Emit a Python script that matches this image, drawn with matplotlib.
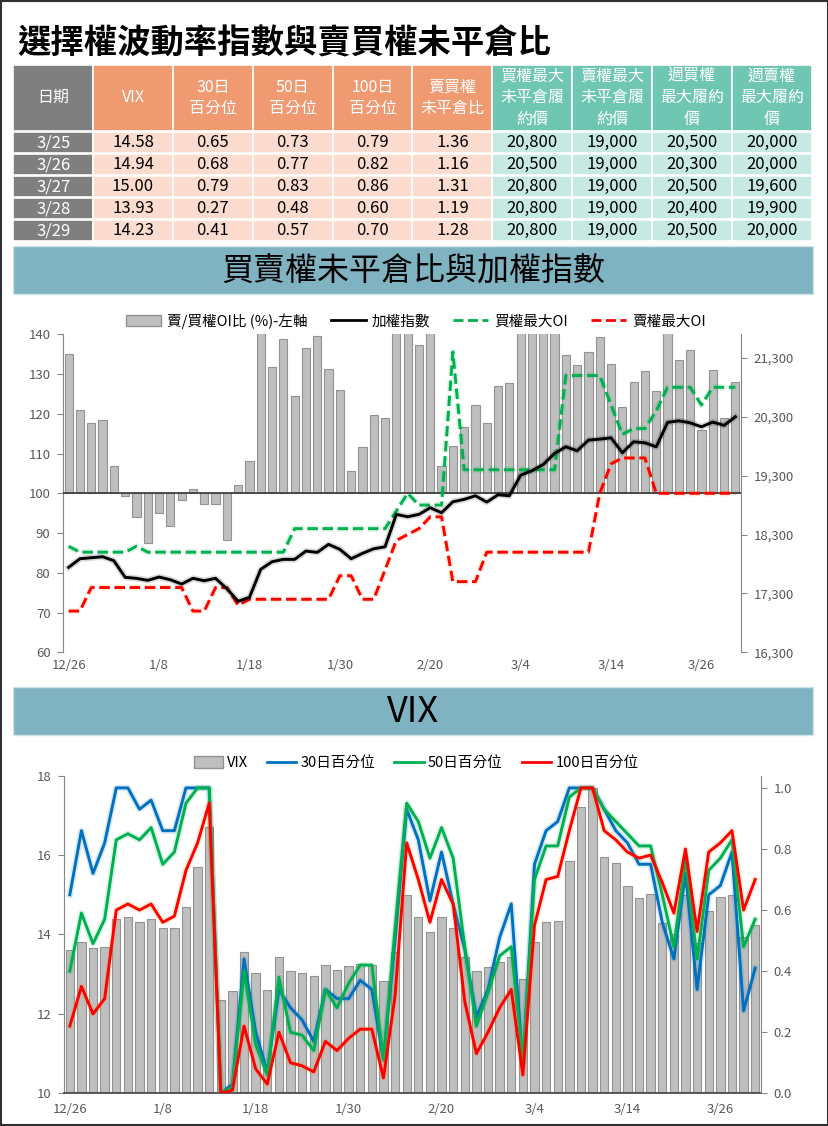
import matplotlib
matplotlib.use("Agg")
import matplotlib.pyplot as plt
import matplotlib.patheffects as pe
from matplotlib.patches import Rectangle, Patch
from matplotlib.lines import Line2D
from matplotlib.ticker import FuncFormatter
import numpy as np

plt.rcParams["font.family"] = ["Noto Sans CJK TC", "DejaVu Sans"]

W, H = 829, 1126

# ---- data ----
dates = ["12/26", "12/27", "12/28", "12/29", "1/2", "1/3", "1/4", "1/5", "1/8", "1/9",
         "1/10", "1/11", "1/12", "1/15", "1/16", "1/17", "1/18", "1/19", "1/22", "1/23",
         "1/24", "1/25", "1/26", "1/29", "1/30", "1/31", "2/1", "2/2", "2/5", "2/15",
         "2/16", "2/19", "2/20", "2/21", "2/22", "2/23", "2/26", "2/27", "2/29", "3/1",
         "3/4", "3/5", "3/6", "3/7", "3/8", "3/11", "3/12", "3/13", "3/14", "3/15",
         "3/18", "3/19", "3/20", "3/21", "3/22", "3/25", "3/26", "3/27", "3/28", "3/29"]

# put/call OI ratio (%), values above 140 are cut off by the axis
pc_ratio = [135.0, 121.0, 117.8, 118.5, 106.9, 99.4, 94.1, 87.4, 95.0, 91.8,
            98.4, 101.2, 97.4, 97.4, 88.3, 102.0, 108.2, 145.0, 131.8, 138.8,
            124.6, 136.6, 139.6, 131.3, 126.1, 105.7, 111.7, 119.7, 119.0, 148.0,
            146.0, 137.4, 143.0, 106.8, 112.0, 116.8, 122.3, 117.8, 127.1, 127.8,
            145.0, 150.0, 147.0, 144.0, 134.7, 132.4, 135.5, 139.4, 132.5, 121.8,
            127.9, 130.7, 125.7, 142.0, 133.5, 136.0, 116.0, 131.0, 119.0, 128.0]

taiex = [17743, 17889, 17906, 17923, 17855, 17573, 17556, 17522, 17578, 17532,
         17459, 17556, 17515, 17556, 17380, 17166, 17234, 17709, 17838, 17878,
         17878, 18019, 17997, 18133, 18048, 17889, 17980, 18058, 18092, 18642,
         18602, 18642, 18755, 18670, 18856, 18897, 18958, 18851, 18975, 18958,
         19309, 19382, 19490, 19677, 19790, 19722, 19903, 19920, 19942, 19688,
         19875, 19857, 19790, 20204, 20231, 20197, 20129, 20209, 20153, 20299]

call_max_oi = [18100, 18000, 18000, 18000, 18000, 18000, 18100, 18000, 18000, 18000,
               18000, 18000, 18000, 18000, 18000, 18000, 18000, 18000, 18000, 18000,
               18400, 18400, 18400, 18400, 18400, 18400, 18400, 18400, 18400, 18700,
               19000, 18800, 18800, 18800, 21400, 19400, 19400, 19400, 19400, 19400,
               19400, 19400, 19400, 19400, 21000, 21000, 21000, 21000, 20500, 20000,
               20100, 20100, 20400, 20800, 20800, 20800, 20500, 20800, 20800, 20800]

put_max_oi = [17000, 17000, 17400, 17400, 17400, 17400, 17400, 17400, 17400, 17400,
              17400, 17000, 17000, 17400, 17400, 17100, 17200, 17200, 17200, 17200,
              17200, 17200, 17200, 17200, 17600, 17600, 17200, 17200, 17700, 18200,
              18300, 18400, 18600, 18600, 17500, 17500, 17500, 18000, 18000, 18000,
              18000, 18000, 18000, 18000, 18000, 18000, 18000, 19000, 19500, 19600,
              19600, 19600, 19000, 19000, 19000, 19000, 19000, 19000, 19000, 19000]

vix = [13.60, 13.80, 13.65, 13.68, 14.38, 14.43, 14.31, 14.38, 14.16, 14.16,
       14.69, 15.69, 16.70, 12.35, 12.58, 13.57, 13.02, 12.60, 13.43, 13.07,
       13.03, 12.95, 13.22, 13.10, 13.20, 13.26, 13.22, 12.82, 13.57, 15.00,
       14.43, 14.06, 14.43, 14.16, 13.43, 13.07, 13.17, 13.30, 13.43, 12.87,
       13.80, 14.32, 14.35, 15.86, 17.22, 17.70, 15.96, 15.81, 15.21, 14.91,
       15.01, 14.28, 14.02, 15.00, 13.79, 14.58, 14.94, 15.00, 13.93, 14.23]

pct30 = [0.65, 0.86, 0.72, 0.82, 1.00, 1.00, 0.93, 0.96, 0.86, 0.86,
         1.00, 1.00, 1.00, 0.00, 0.03, 0.44, 0.20, 0.07, 0.34, 0.28,
         0.24, 0.17, 0.34, 0.31, 0.31, 0.37, 0.34, 0.11, 0.50, 0.93,
         0.83, 0.63, 0.79, 0.62, 0.47, 0.25, 0.34, 0.51, 0.62, 0.09,
         0.75, 0.86, 0.89, 1.00, 1.00, 1.00, 0.93, 0.86, 0.82, 0.75,
         0.75, 0.56, 0.44, 0.72, 0.34, 0.65, 0.68, 0.79, 0.27, 0.41]

pct50 = [0.40, 0.59, 0.49, 0.57, 0.83, 0.85, 0.83, 0.87, 0.75, 0.79,
         0.95, 1.00, 1.00, 0.00, 0.02, 0.40, 0.16, 0.06, 0.38, 0.20,
         0.19, 0.14, 0.34, 0.28, 0.36, 0.42, 0.42, 0.11, 0.54, 0.95,
         0.89, 0.77, 0.87, 0.77, 0.48, 0.22, 0.33, 0.45, 0.48, 0.10,
         0.70, 0.81, 0.81, 0.97, 1.00, 1.00, 0.93, 0.89, 0.85, 0.81,
         0.81, 0.65, 0.48, 0.77, 0.44, 0.73, 0.77, 0.83, 0.48, 0.57]

pct100 = [0.22, 0.35, 0.26, 0.31, 0.60, 0.62, 0.60, 0.62, 0.56, 0.58,
          0.73, 0.82, 0.95, 0.00, 0.01, 0.22, 0.08, 0.03, 0.20, 0.10,
          0.09, 0.07, 0.17, 0.14, 0.18, 0.21, 0.21, 0.05, 0.32, 0.82,
          0.70, 0.56, 0.70, 0.62, 0.30, 0.13, 0.20, 0.28, 0.34, 0.06,
          0.55, 0.70, 0.71, 0.86, 1.00, 1.00, 0.86, 0.83, 0.79, 0.77,
          0.78, 0.69, 0.59, 0.80, 0.53, 0.79, 0.82, 0.86, 0.60, 0.70]

# ---- table data ----
tbl_header = ["日期", "VIX", "30日\n百分位", "50日\n百分位", "100日\n百分位", "賣買權\n未平倉比",
              "買權最大\n未平倉履\n約價", "賣權最大\n未平倉履\n約價", "週買權\n最大履約\n價",
              "週賣權\n最大履約\n價"]
tbl_dates = ["3/25", "3/26", "3/27", "3/28", "3/29"]
tbl_vix = [14.58, 14.94, 15.00, 13.93, 14.23]
tbl_p30 = [0.65, 0.68, 0.79, 0.27, 0.41]
tbl_p50 = [0.73, 0.77, 0.83, 0.48, 0.57]
tbl_p100 = [0.79, 0.82, 0.86, 0.60, 0.70]
tbl_pc = [1.36, 1.16, 1.31, 1.19, 1.28]
tbl_call_max = [20800, 20500, 20800, 20800, 20800]
tbl_put_max = [19000, 19000, 19000, 19000, 19000]
tbl_wk_call = [20500, 20300, 20500, 20400, 20500]
tbl_wk_put = [20000, 20000, 19600, 19900, 20000]

GRAY_HEAD = "#7F7F7F"
ORANGE_HEAD = "#F09A72"
ORANGE_CELL = "#FBDCCF"
TEAL_HEAD = "#6FC6B3"
TEAL_CELL = "#C6EAE3"
BANNER = "#7FB3C1"
TICK_C = "#595959"

fig = plt.figure(figsize=(W / 100, H / 100), dpi=100)

# background layer in pixel coordinates
bg = fig.add_axes([0, 0, 1, 1], zorder=0)
bg.set_xlim(0, W)
bg.set_ylim(H, 0)
bg.axis("off")

bg.add_patch(Rectangle((1, 1), W - 2, H - 2, fill=False, edgecolor="#303030", lw=1.5))
bg.text(17, 44, "選擇權波動率指數與賣買權未平倉比", fontsize=24, fontweight="bold",
        va="center", ha="left", color="black")

# table
col_x = [13.2 + 79.86 * k for k in range(11)]
head_top, head_bot = 65, 130.7
row_tops = [131.7, 153.7, 175.7, 197.7, 219.7]
row_h = 21.0
head_colors = [GRAY_HEAD] + [ORANGE_HEAD] * 5 + [TEAL_HEAD] * 4
cell_colors = [GRAY_HEAD] + [ORANGE_CELL] * 5 + [TEAL_CELL] * 4

rows = []
for i in range(5):
    rows.append([tbl_dates[i], f"{tbl_vix[i]:.2f}", f"{tbl_p30[i]:.2f}", f"{tbl_p50[i]:.2f}",
                 f"{tbl_p100[i]:.2f}", f"{tbl_pc[i]:.2f}", f"{tbl_call_max[i]:,}",
                 f"{tbl_put_max[i]:,}", f"{tbl_wk_call[i]:,}", f"{tbl_wk_put[i]:,}"])

for c in range(10):
    x0, x1 = col_x[c], col_x[c + 1]
    bg.add_patch(Rectangle((x0, head_top), x1 - x0, head_bot - head_top,
                           facecolor=head_colors[c], edgecolor="white", lw=1.2))
    bg.text((x0 + x1) / 2, (head_top + head_bot) / 2, tbl_header[c], color="white",
            fontsize=11.5, ha="center", va="center", linespacing=1.35)
    for r in range(5):
        bg.add_patch(Rectangle((x0, row_tops[r]), x1 - x0, row_h,
                               facecolor=cell_colors[c], edgecolor="white", lw=1.2))
        bg.text((x0 + x1) / 2, row_tops[r] + row_h / 2 + 0.5, rows[r][c],
                color="white" if c == 0 else "black", fontsize=12,
                ha="center", va="center")

# banners
bg.add_patch(Rectangle((13, 245.7), 800, 48.6, facecolor=BANNER, edgecolor="#D0E4EA", lw=1))
bg.text(413, 271, "買賣權未平倉比與加權指數", fontsize=23, ha="center", va="center",
        color="black", fontweight="medium")
bg.add_patch(Rectangle((13, 687), 800, 48, facecolor=BANNER, edgecolor="#D0E4EA", lw=1))
bg.text(413, 712, "VIX", fontsize=26, ha="center", va="center", color="black",
        fontweight="medium")

x = np.arange(len(dates))
tick_pos = list(range(0, len(dates), 8))
tick_lab = [dates[i] for i in tick_pos]


def glow(color):
    return [pe.Stroke(linewidth=4.5, foreground=color, alpha=0.15), pe.Normal()]


# ---- chart 1: put/call ratio and TAIEX ----
ax1 = fig.add_axes([63 / W, 1 - 652.3 / H, 678 / W, 318 / H], zorder=2)
ax1.bar(x, np.array(pc_ratio) - 100, bottom=100, width=0.72, color="#BFBFBF",
        edgecolor="#929292", lw=0.8, zorder=2)
ax1.axhline(100, color="#404040", lw=1.3, zorder=3)
ax1.set_xlim(-0.5, len(dates) - 0.5)
ax1.set_ylim(60, 140)
ax1.set_yticks(range(60, 141, 10))
ax1.set_xticks(tick_pos)
ax1.set_xticklabels(tick_lab)
for s in ["top", "right", "bottom"]:
    ax1.spines[s].set_visible(False)
ax1.spines["left"].set_color("#868686")
ax1.tick_params(axis="y", colors="#868686", labelcolor=TICK_C, labelsize=9.5,
                length=4, pad=5)
ax1.tick_params(axis="x", length=0, labelcolor=TICK_C, labelsize=9.5, pad=5)
ax1.patch.set_alpha(0)

ax2 = ax1.twinx()
ax2.plot(x, taiex, color="black", lw=2.1, zorder=5, path_effects=glow("#000000"))
ax2.plot(x, call_max_oi, color="#00B050", lw=2.1, dashes=(3.6, 1.6), zorder=4,
         path_effects=glow("#00B050"))
ax2.plot(x, put_max_oi, color="#FF0000", lw=2.1, dashes=(3.6, 1.6), zorder=4,
         path_effects=glow("#FF8000"))
ax2.set_ylim(16300, 21700)
ax2.set_yticks(range(16300, 21301, 1000))
ax2.yaxis.set_major_formatter(FuncFormatter(lambda v, p: f"{int(v):,}"))
for s in ["top", "left", "bottom"]:
    ax2.spines[s].set_visible(False)
ax2.spines["right"].set_color("#868686")
ax2.tick_params(axis="y", colors="#868686", labelcolor=TICK_C, labelsize=9.5,
                length=4, pad=5)

h1 = [Patch(facecolor="#BFBFBF", edgecolor="#929292"),
      Line2D([], [], color="black", lw=2.0),
      Line2D([], [], color="#00B050", lw=2.0, dashes=(3.6, 1.6)),
      Line2D([], [], color="#FF0000", lw=2.0, dashes=(3.6, 1.6))]
fig.legend(h1, ["賣/買權OI比 (%)-左軸", "加權指數", "買權最大OI", "賣權最大OI"],
           loc="center", bbox_to_anchor=(416 / W, 1 - 321 / H), ncol=4, frameon=False,
           fontsize=10.5, handlelength=2.4, handletextpad=0.4, columnspacing=1.6,
           handleheight=0.8)

# ---- chart 2: VIX ----
ax3 = fig.add_axes([64 / W, 1 - 1093.3 / H, 697 / W, 317.6 / H], zorder=2)
ax3.bar(x, vix, width=0.72, color="#BFBFBF", edgecolor="#929292", lw=0.8, zorder=2)
ax3.set_xlim(-0.5, len(dates) - 0.5)
ax3.set_ylim(10, 18)
ax3.set_yticks(range(10, 19, 2))
ax3.set_xticks(tick_pos)
ax3.set_xticklabels(tick_lab)
for s in ["top", "right"]:
    ax3.spines[s].set_visible(False)
ax3.spines["left"].set_color("#868686")
ax3.spines["bottom"].set_color("#404040")
ax3.spines["bottom"].set_linewidth(1.2)
ax3.tick_params(axis="y", colors="#868686", labelcolor=TICK_C, labelsize=9.5,
                length=4, pad=5)
ax3.tick_params(axis="x", length=0, labelcolor=TICK_C, labelsize=9.5, pad=7)
ax3.patch.set_alpha(0)

ax4 = ax3.twinx()
ax4.plot(x, pct30, color="#0070C0", lw=2.1, path_effects=glow("#0070C0"))
ax4.plot(x, pct50, color="#00B050", lw=2.1, path_effects=glow("#00B050"))
ax4.plot(x, pct100, color="#FF0000", lw=2.1, path_effects=glow("#FF8000"))
ax4.set_ylim(0, 1.04)
ax4.set_yticks(np.arange(0, 1.01, 0.2))
ax4.yaxis.set_major_formatter(FuncFormatter(lambda v, p: f"{v:.1f}"))
for s in ["top", "left", "bottom"]:
    ax4.spines[s].set_visible(False)
ax4.spines["right"].set_color("#868686")
ax4.tick_params(axis="y", colors="#868686", labelcolor=TICK_C, labelsize=9.5,
                length=4, pad=5)

h2 = [Patch(facecolor="#BFBFBF", edgecolor="#929292"),
      Line2D([], [], color="#0070C0", lw=2.0),
      Line2D([], [], color="#00B050", lw=2.0),
      Line2D([], [], color="#FF0000", lw=2.0)]
fig.legend(h2, ["VIX", "30日百分位", "50日百分位", "100日百分位"],
           loc="center", bbox_to_anchor=(416 / W, 1 - 763 / H), ncol=4, frameon=False,
           fontsize=10.5, handlelength=2.0, handletextpad=0.3, columnspacing=1.3,
           handleheight=0.8)

fig.savefig("out.png", dpi=100)
